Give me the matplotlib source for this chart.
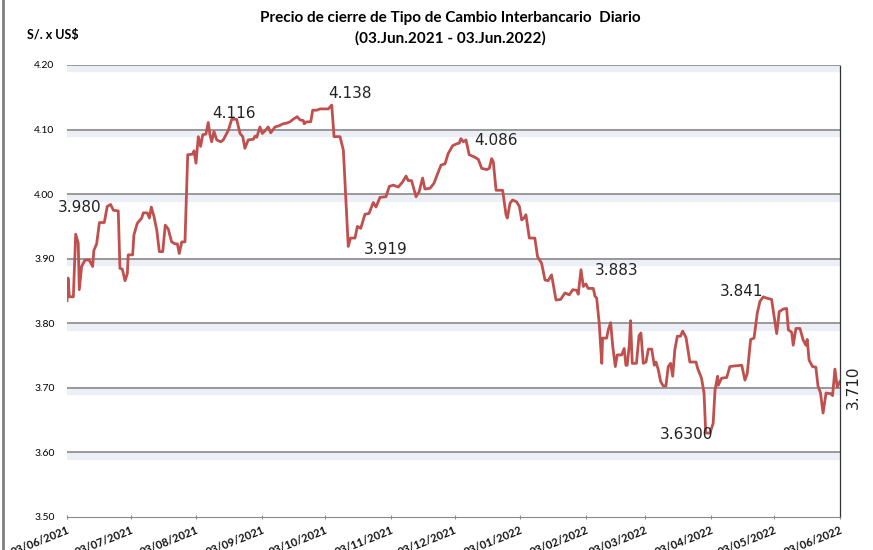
import numpy as np
import pandas as pd
import matplotlib
matplotlib.use("Agg")
import matplotlib.pyplot as plt
import matplotlib.dates as mdates
import matplotlib.patheffects as pe
from matplotlib.lines import Line2D

# %%
# dias desde el 03/06/2021 y tipo de cambio
inicio = pd.Timestamp("2021-06-03")
dias = [0.0, 0.5, 1.1, 3.0, 4.1, 5.3, 5.8, 6.9, 8.5, 10.5, 12.1, 12.7, 14.0, 15.3, 17.6, 19.0,
        20.6, 21.9, 24.2, 25.0, 26.1, 27.4, 28.5, 28.9, 31.0, 31.6, 33.2, 35.3, 36.0, 37.9,
        38.9, 39.8, 41.1, 42.4, 43.6, 45.2, 46.4, 47.8, 49.4, 51.0, 52.1, 53.0, 54.2, 55.7,
        57.0, 59.3, 60.0, 60.9, 62.0, 63.1, 64.1, 65.6, 66.7, 67.5, 68.3, 69.4, 70.7, 72.6,
        73.8, 76.2, 77.8, 80.1, 81.7, 83.0, 84.0, 85.6, 88.0, 88.8, 89.6, 91.1, 92.2, 93.5,
        95.0, 96.2, 98.2, 100.2, 102.1, 103.7, 105.3, 106.8, 108.7, 110.0, 111.6, 112.0,
        113.2, 115.1, 116.0, 117.9, 119.5, 123.4, 125.0, 126.1, 128.9, 130.5, 132.8, 133.9,
        136.0, 137.1, 138.7, 140.7, 142.6, 144.6, 145.9, 147.8, 150.6, 152.2, 154.1, 156.4,
        158.5, 160.1, 161.1, 162.7, 164.8, 166.3, 167.9, 169.0, 171.4, 173.3, 174.8, 176.6,
        178.5, 180.0, 182.1, 184.0, 185.2, 186.0, 187.1, 188.4, 189.9, 192.1, 194.2, 195.8,
        198.2, 199.4, 200.5, 201.3, 202.6, 205.7, 207.3, 207.9, 209.2, 210.4, 212.3, 213.6,
        214.7, 215.8, 216.7, 218.3, 220.9, 222.2, 224.1, 225.7, 227.2, 228.8, 230.9, 233.1,
        235.1, 237.2, 238.8, 240.7, 241.4, 242.7, 243.8, 245.0, 246.1, 248.5, 249.3, 250.1,
        251.3, 252.5, 252.9, 254.8, 255.6, 256.7, 257.7, 258.9, 259.8, 261.9, 263.1, 263.9,
        264.5, 265.5, 266.1, 266.9, 268.9, 270.1, 271.0, 272.1, 273.4, 274.5, 276.1, 277.3,
        278.1, 279.2, 280.3, 281.5, 282.8, 283.9, 285.0, 286.0, 287.0, 288.2, 289.7, 290.7,
        292.3, 294.1, 297.0, 297.8, 299.6, 300.8, 301.6, 303.6, 305.1, 306.0, 307.2, 307.5,
        309.1, 311.5, 313.0, 315.4, 318.6, 320.1, 321.2, 322.8, 324.4, 325.9, 327.2, 328.8,
        330.3, 332.7, 335.1, 336.3, 338.2, 339.8, 340.6, 342.2, 342.9, 344.2, 346.1, 347.6,
        348.9, 349.5, 350.4, 352.0, 353.6, 354.6, 355.8, 357.0, 358.4, 360.6, 361.5, 362.6,
        363.7, 365.0]
tc = [3.835, 3.870, 3.841, 3.841, 3.938, 3.924, 3.852, 3.888, 3.898, 3.898, 3.888, 3.913, 3.923,
      3.956, 3.956, 3.981, 3.984, 3.975, 3.974, 3.885, 3.884, 3.866, 3.877, 3.906, 3.906, 3.937,
      3.955, 3.963, 3.971, 3.971, 3.963, 3.980, 3.965, 3.944, 3.911, 3.911, 3.952, 3.946, 3.926,
      3.923, 3.923, 3.908, 3.926, 3.926, 4.061, 4.062, 4.067, 4.048, 4.089, 4.074, 4.092, 4.093,
      4.111, 4.092, 4.081, 4.097, 4.084, 4.081, 4.084, 4.099, 4.116, 4.116, 4.094, 4.089, 4.071,
      4.084, 4.085, 4.090, 4.088, 4.104, 4.094, 4.098, 4.104, 4.095, 4.104, 4.106, 4.109, 4.110,
      4.112, 4.116, 4.120, 4.115, 4.114, 4.109, 4.112, 4.112, 4.130, 4.130, 4.132, 4.132, 4.138,
      4.089, 4.089, 4.068, 3.919, 3.932, 3.932, 3.950, 3.947, 3.969, 3.970, 3.987, 3.980, 3.995,
      3.996, 4.012, 4.014, 4.011, 4.019, 4.028, 4.021, 4.021, 3.996, 4.004, 4.025, 4.008, 4.009,
      4.017, 4.030, 4.045, 4.047, 4.063, 4.075, 4.078, 4.079, 4.086, 4.081, 4.084, 4.061, 4.058,
      4.054, 4.040, 4.038, 4.040, 4.055, 4.050, 4.006, 4.006, 3.968, 3.963, 3.986, 3.991, 3.988,
      3.981, 3.960, 3.963, 3.968, 3.932, 3.932, 3.903, 3.893, 3.867, 3.866, 3.875, 3.836, 3.837,
      3.847, 3.844, 3.852, 3.851, 3.845, 3.883, 3.857, 3.861, 3.854, 3.854, 3.842, 3.839, 3.800,
      3.738, 3.777, 3.777, 3.790, 3.801, 3.764, 3.733, 3.751, 3.751, 3.761, 3.735, 3.735, 3.766,
      3.804, 3.738, 3.738, 3.781, 3.785, 3.738, 3.740, 3.760, 3.760, 3.735, 3.740, 3.728, 3.710,
      3.703, 3.703, 3.733, 3.738, 3.718, 3.759, 3.780, 3.780, 3.788, 3.778, 3.740, 3.740, 3.730,
      3.715, 3.692, 3.630, 3.630, 3.645, 3.697, 3.718, 3.704, 3.715, 3.716, 3.733, 3.734, 3.735,
      3.712, 3.722, 3.775, 3.777, 3.815, 3.834, 3.841, 3.839, 3.837, 3.784, 3.818, 3.822, 3.823,
      3.790, 3.786, 3.766, 3.792, 3.792, 3.774, 3.766, 3.775, 3.743, 3.733, 3.732, 3.703, 3.692,
      3.661, 3.692, 3.691, 3.688, 3.729, 3.701, 3.710]

# etiquetas de puntos destacados
etiq_dias = [20.6, 77.8, 125.0, 132.8, 186.0, 242.7, 328.8, 303.6, 365.0]
etiq_txt = ["3.980", "4.116", "4.138", "3.919", "4.086", "3.883", "3.841", "3.6300", "3.710"]
etiq_val = [3.984, 4.116, 4.138, 3.919, 4.086, 3.883, 3.841, 3.630, 3.710]

fechas_tick = pd.date_range("2021-06-03", "2022-06-03", freq=pd.DateOffset(months=1))
y_ticks = [3.50, 3.60, 3.70, 3.80, 3.90, 4.00, 4.10, 4.20]

fechas = inicio + pd.to_timedelta(dias, unit="D")

# %%
fig = plt.figure(figsize=(8.73, 5.5), dpi=100)
ax = fig.add_axes([67/873, 1-517/550, (840-67)/873, (517-65)/550])

# grilla con sombra
for yv in y_ticks[1:]:
    ax.axhline(yv, color="#8a8a8a", lw=1.2, zorder=1,
               path_effects=[pe.SimpleLineShadow(offset=(0, -2.5), shadow_color="#c9d3e6", alpha=0.35, linewidth=6),
                             pe.Normal()])

ax.plot(fechas, tc, color="#C0504D", lw=2, zorder=3)

# etiquetas
offsets = [(-31, -3), (2, 6), (18, 12), (37, -3), (35, -2), (36, -1), (-22, 5), (-23, -1), (13, -6)]
for d, t, v, off in zip(etiq_dias, etiq_txt, etiq_val, offsets):
    rot = 90 if t == "3.710" else 0
    ax.annotate(t, xy=(inicio + pd.Timedelta(days=d), v), xytext=off, textcoords="offset pixels",
                ha="center", va="center", fontsize=11, rotation=rot, color="#222222",
                family="DejaVu Sans", zorder=4)

ax.set_xlim(inicio, inicio + pd.Timedelta(days=365))
ax.set_ylim(3.50, 4.20)
ax.set_yticks(y_ticks)
ax.set_yticklabels([f"{v:.2f}" for v in y_ticks], fontsize=7.5, family="Lato")
ax.set_xticks(fechas_tick)
ax.set_xticklabels([f.strftime("%d/%m/%Y") for f in fechas_tick], rotation=22, ha="right",
                   rotation_mode="anchor", fontsize=8, fontweight="bold", family="Lato", color="#111111")
ax.tick_params(axis="y", length=0, pad=9)
ax.tick_params(axis="x", length=3, direction="inout", color="#8a8a8a", pad=4)

for s in ["top", "left"]:
    ax.spines[s].set_visible(False)
ax.spines["bottom"].set_color("#8a8a8a")
ax.spines["right"].set_linestyle((0, (1, 1)))
ax.spines["right"].set_linewidth(0.9)
ax.spines["right"].set_color("#333333")

fig.text(450/873, 1-18/550, "Precio de cierre de Tipo de Cambio Interbancario  Diario",
         ha="center", va="center", fontsize=11, fontweight="bold", family="Lato")
fig.text(450/873, 1-38/550, "(03.Jun.2021 - 03.Jun.2022)",
         ha="center", va="center", fontsize=11, fontweight="bold", family="Lato")
fig.text(27/873, 1-35/550, "S/. x US$", ha="left", va="center", fontsize=9, fontweight="bold", family="Lato")

fig.add_artist(Line2D([3/873, 3/873], [0, 1], transform=fig.transFigure, color="#7f7f7f", lw=2))

fig.savefig("out.png", dpi=100)
